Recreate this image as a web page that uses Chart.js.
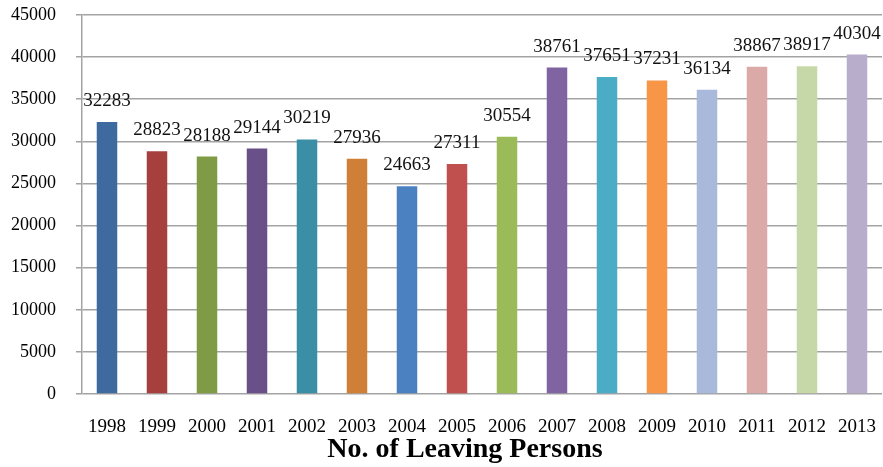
<!DOCTYPE html>
<html>
<head>
<meta charset="utf-8">
<script src="https://cdn.jsdelivr.net/npm/chart.js@4.4.1/dist/chart.umd.min.js"></script>
<style>
  html, body { margin: 0; padding: 0; background: #ffffff; }
  #wrap { width: 883px; height: 467px; position: relative; }
</style>
</head>
<body>
<div id="wrap"><canvas id="c" width="883" height="467"></canvas></div>
<script>
const years = ['1998','1999','2000','2001','2002','2003','2004','2005','2006','2007','2008','2009','2010','2011','2012','2013'];
const leavingPersons = [32283, 28823, 28188, 29144, 30219, 27936, 24663, 27311, 30554, 38761, 37651, 37231, 36134, 38867, 38917, 40304];
const barColors = ['#3F6AA0','#A5403F','#7F9B46','#6A5089','#3A8FA6','#D07F37','#4B80C1','#C0504D','#9BBB59','#8064A2','#4BACC6','#F79646','#A8B9DB','#DBA9A8','#C6D8A8','#B8ADCB'];
const yTicks = [0,5000,10000,15000,20000,25000,30000,35000,40000,45000];
const xTitle = 'No. of Leaving Persons';

const valueLabels = {
  id: 'valueLabels',
  afterDatasetsDraw(chart) {
    const ctx = chart.ctx;
    const meta = chart.getDatasetMeta(0);
    ctx.save();
    ctx.font = '19px "Liberation Serif", "Times New Roman", serif';
    ctx.fillStyle = '#111111';
    ctx.textAlign = 'center';
    ctx.textBaseline = 'middle';
    meta.data.forEach((bar, i) => {
      ctx.fillText(String(leavingPersons[i]), bar.x, bar.y - 21);
    });
    ctx.restore();
  }
};

const axisTitle = {
  id: 'axisTitle',
  afterDraw(chart) {
    const ctx = chart.ctx;
    ctx.save();
    ctx.font = 'bold 28px "Liberation Serif", "Times New Roman", serif';
    ctx.fillStyle = '#000000';
    ctx.textAlign = 'center';
    ctx.textBaseline = 'alphabetic';
    ctx.fillText(xTitle, 465, 457);
    ctx.restore();
  }
};

new Chart(document.getElementById('c'), {
  type: 'bar',
  data: {
    labels: years,
    datasets: [{
      data: leavingPersons,
      backgroundColor: barColors,
      borderWidth: 0,
      barPercentage: 0.41,
      categoryPercentage: 1.0
    }]
  },
  options: {
    responsive: false,
    animation: false,
    devicePixelRatio: 1,
    layout: { padding: { top: 15, right: 1, bottom: 0, left: 0 } },
    plugins: {
      legend: { display: false },
      tooltip: { enabled: false },
      title: { display: false }
    },
    scales: {
      x: {
        grid: { display: false, drawTicks: false },
        border: { display: false },
        ticks: {
          color: '#000000',
          padding: 22,
          maxRotation: 0,
          autoSkip: false,
          font: { family: '"Liberation Serif", "Times New Roman", serif', size: 19 }
        },
        afterFit(s) { s.height = 73; s.paddingLeft = 0; s.paddingRight = 0; }
      },
      y: {
        min: 0,
        max: 45000,
        afterBuildTicks(s) { s.ticks = yTicks.map(v => ({ value: v })); },
        grid: { color: '#a3a3a3', lineWidth: 1.5, tickLength: 6, drawTicks: true },
        border: { display: true, color: '#a3a3a3', width: 1.5 },
        ticks: {
          color: '#000000',
          padding: 20,
          font: { family: '"Liberation Serif", "Times New Roman", serif', size: 18 },
          callback: (v) => String(v)
        },
        afterFit(s) { s.width = 82; s.paddingTop = 0; s.paddingBottom = 0; }
      }
    }
  },
  plugins: [valueLabels, axisTitle]
});
</script>
</body>
</html>
